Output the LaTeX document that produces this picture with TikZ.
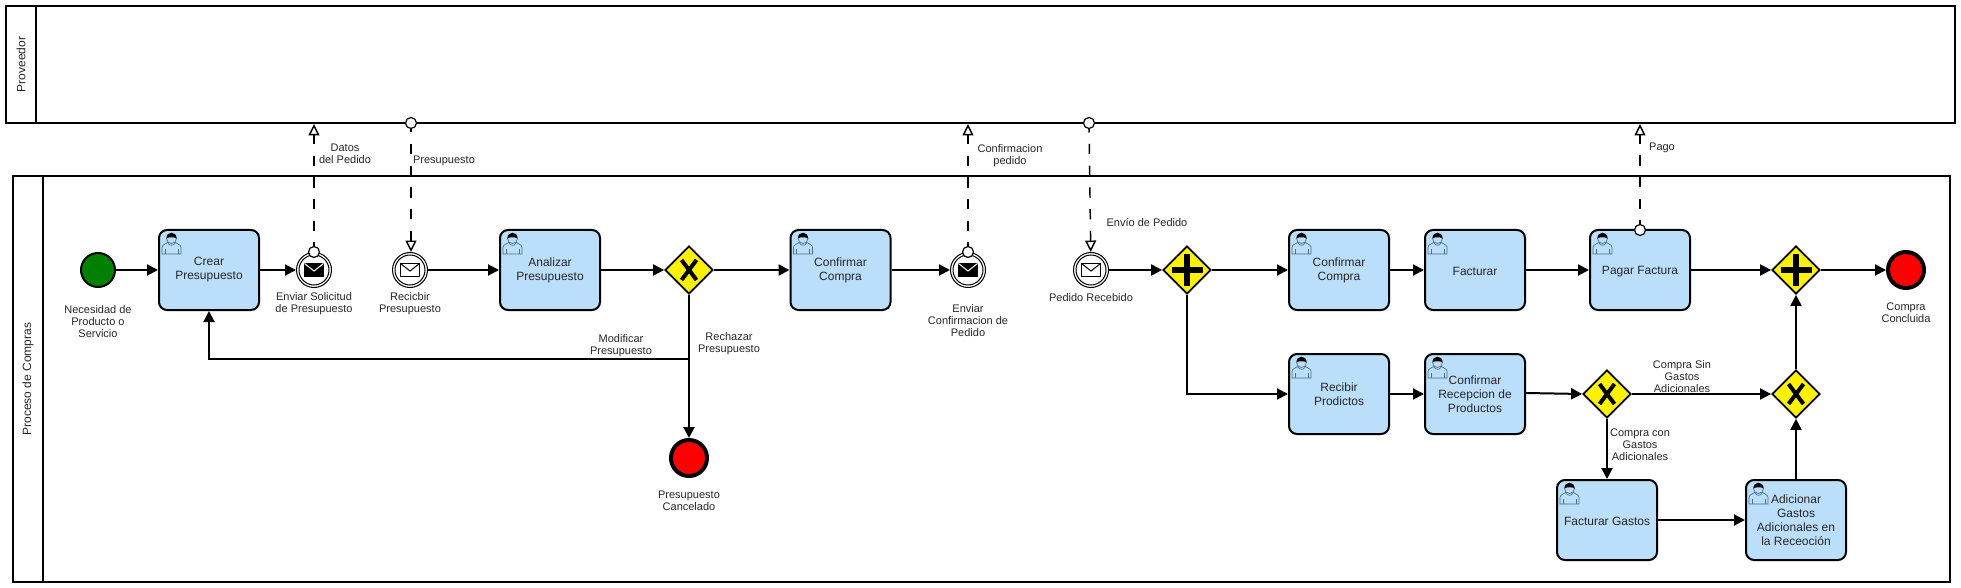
\documentclass[tikz,border=0pt]{standalone}
\usepackage{fontspec}
\setmainfont{Liberation Sans}
\usetikzlibrary{arrows.meta,shapes.geometric}

\definecolor{taskblue}{HTML}{BBDEFB}
\definecolor{icongray}{HTML}{4F6D84}

\tikzset{
	pool/.style={draw, line width=1.5pt, inner sep=0pt},
	poolname/.style={rotate=90, inner sep=0pt, text=black!85, font=\fontsize{9}{10.5}\selectfont},
	tasknode/.style={draw, line width=1.5pt, fill=taskblue, rounded corners=6pt, minimum width=75pt, minimum height=60pt, inner sep=0pt, align=center, text=black!85, font=\fontsize{9}{10.5}\selectfont, execute at begin node=\rule{0pt}{8.5pt}},
	gatenode/.style={diamond, draw, line width=1.3pt, fill=yellow, aspect=1, minimum width=36pt, minimum height=36pt, inner sep=0pt},
	startnode/.style={circle, draw, line width=1.5pt, fill=green!50!black, minimum size=25.5pt, inner sep=0pt},
	endnode/.style={circle, draw, line width=3pt, fill=red, minimum size=27pt, inner sep=0pt},
	mailnode/.style={circle, draw, line width=0.75pt, fill=white, minimum size=26.25pt, inner sep=0pt},
	portnode/.style={circle, draw, line width=0.9pt, fill=white, minimum size=8.25pt, inner sep=0pt},
	textnode/.style={inner sep=0pt, yshift=-0.9pt, align=center, text=black!85, font=\fontsize{8.25}{9}\selectfont},
	flow/.style={line width=1.5pt, -{Triangle[length=8.25pt,width=8.25pt]}},
	msgflow/.style={line width=1.1pt, dash pattern=on 7.8pt off 8.5pt, dash phase=5.25pt, -{Triangle[open,fill=white,length=8.6pt,width=8.2pt]}}
}

\def\mailicon[#1](#2){
	\draw[line width=0.75pt, line join=round, #1] ([shift={(-9.5,-6.5)}]#2.center) rectangle ([shift={(9.5,6.5)}]#2.center);
	\draw[line width=0.75pt, draw=white, #1] ([shift={(-9.5,-6.5)}]#2.center) -- ([shift={(0,1)}]#2.center) -- ([shift={(9.5,-6.5)}]#2.center);
}
\def\usericon(#1){
	\begin{scope}[shift={(#1.north west)}, line width=0.5pt, draw=icongray]
		\draw[fill=taskblue] (4,25) -- (4,18.5) .. controls (4,15.5) and (8,15) .. (10.5,13) -- (16.5,13) .. controls (19,15) and (23,15.5) .. (23,18.5) -- (23,25) -- cycle;
		\draw (7,25) -- (7,20) (20,25) -- (20,20);
		\draw (10,14) .. controls (11,17) and (16,17) .. (17,14);
		\draw[fill=taskblue] (13.5,9.5) circle (5);
		\fill[black] (8.5,9.5) .. controls (8.2,1.8) and (18.8,1.8) .. (18.5,9.5) .. controls (17,7.8) and (10,7.8) .. (8.5,9.5) -- cycle;
	\end{scope}
}
\def\gatecross(#1){
	\draw[line width=3pt] ([shift={(-7.5,-10)}]#1.center) -- ([shift={(7.5,10)}]#1.center);
	\draw[line width=3pt] ([shift={(7.5,-10)}]#1.center) -- ([shift={(-7.5,10)}]#1.center);
}
\def\gateplus(#1){
	\draw[line width=4.5pt] ([shift={(-15.5,0)}]#1.center) -- ([shift={(15.5,0)}]#1.center);
	\draw[line width=4.5pt] ([shift={(0,-15.5)}]#1.center) -- ([shift={(0,15.5)}]#1.center);
}

\begin{document}
\begin{tikzpicture}[x=0.75pt, y=-0.75pt]
	%%%%% START %%%%%
	\useasboundingbox (0, 0) rectangle (1961, 588);
	
	% pools
	\node[pool, minimum width=1461.75pt, minimum height=87.75pt] (poolProv) at (980.5, 64.5) {};
	\node[pool, minimum width=1452.75pt, minimum height=304.5pt] (poolComp) at (981.5, 379) {};
	\draw[line width=1.5pt] (36, 6) -- (36, 123);
	\draw[line width=1.5pt] (43, 176) -- (43, 582);
	\node[poolname] (nameProv) at (21, 64.5) {Proveedor};
	\node[poolname] (nameComp) at (28, 379) {Proceso de Compras};
	
	% events and tasks
	\node[startnode] (evStart) at (98, 270) {};
	\node[tasknode] (taskCrear) at (209, 270) {Crear\\Presupuesto};
	\node[mailnode] (evEnviar) at (314, 270) {};
	\node[mailnode] (evRecibir) at (410, 270) {};
	\node[tasknode] (taskAnalizar) at (550, 270) {Analizar\\Presupuesto};
	\node[gatenode] (gwAnalisis) at (689, 270) {};
	\node[tasknode] (taskConfirmar) at (840.5, 270) {Confirmar\\Compra};
	\node[mailnode] (evConfirm) at (968, 270) {};
	\node[endnode] (endCancel) at (689, 458) {};
	\node[mailnode] (evPedido) at (1091, 270) {};
	\node[gatenode] (gwPedido) at (1187, 270) {};
	\node[tasknode] (taskCompra) at (1339, 270) {Confirmar\\Compra};
	\node[tasknode] (taskFacturar) at (1475, 270) {Facturar};
	\node[tasknode] (taskPagar) at (1640, 270) {Pagar Factura};
	\node[gatenode] (gwJoin) at (1796, 270) {};
	\node[endnode] (endCompra) at (1906, 270) {};
	\node[tasknode] (taskRecibir) at (1339, 394) {Recibir\\Prodictos};
	\node[tasknode] (taskRecep) at (1475, 394) {Confirmar\\Recepcion de\\Productos};
	\node[gatenode] (gwGastos) at (1607, 394) {};
	\node[gatenode] (gwMerge) at (1796, 394) {};
	\node[tasknode] (taskGastos) at (1607, 520) {Facturar Gastos};
	\node[tasknode] (taskAdic) at (1796, 520) {Adicionar\\Gastos\\Adicionales en\\la Receoción};
	
	\usericon(taskCrear)
	\usericon(taskAnalizar)
	\usericon(taskConfirmar)
	\usericon(taskCompra)
	\usericon(taskFacturar)
	\usericon(taskPagar)
	\usericon(taskRecibir)
	\usericon(taskRecep)
	\usericon(taskGastos)
	\usericon(taskAdic)
	
	\draw[line width=0.75pt] (evEnviar) circle (15);
	\draw[line width=0.75pt] (evRecibir) circle (15);
	\draw[line width=0.75pt] (evConfirm) circle (15);
	\draw[line width=0.75pt] (evPedido) circle (15);
	\mailicon[fill=black](evEnviar)
	\mailicon[draw=black](evRecibir)
	\mailicon[fill=black](evConfirm)
	\mailicon[draw=black](evPedido)
	
	\gatecross(gwAnalisis)
	\gatecross(gwGastos)
	\gatecross(gwMerge)
	\gateplus(gwPedido)
	\gateplus(gwJoin)
	
	% sequence flows
	\coordinate (cModif) at (689, 359);
	\draw[flow] (evStart) -- (taskCrear);
	\draw[flow] (taskCrear) -- (evEnviar);
	\draw[flow] (evRecibir) -- (taskAnalizar);
	\draw[flow] (taskAnalizar) -- (gwAnalisis);
	\draw[flow] (gwAnalisis) -- (taskConfirmar);
	\draw[flow] (taskConfirmar) -- (evConfirm);
	\draw[flow] (gwAnalisis.south) -- (endCancel.north);
	\draw[flow] (cModif) -| (taskCrear.south);
	\draw[flow] (evPedido) -- (gwPedido);
	\draw[flow] (gwPedido) -- (taskCompra);
	\draw[flow] (taskCompra) -- (taskFacturar);
	\draw[flow] (taskFacturar) -- (taskPagar);
	\draw[flow] (taskPagar) -- (gwJoin);
	\draw[flow] (gwJoin) -- (endCompra);
	\draw[flow] (gwPedido.south) |- (taskRecibir.west);
	\draw[flow] (taskRecibir) -- (taskRecep);
	\draw[flow] ([yshift=0.75pt]taskRecep.east) -- (gwGastos.west);
	\draw[flow] (gwGastos) -- (gwMerge);
	\draw[flow] (gwGastos) -- (taskGastos);
	\draw[flow] (taskGastos) -- (taskAdic);
	\draw[flow] (taskAdic) -- (gwMerge);
	\draw[flow] (gwMerge) -- (gwJoin);
	
	% message flows
	\node[portnode] (portDatos) at (314, 252) {};
	\node[portnode] (portPres) at (411, 123) {};
	\node[portnode] (portConf) at (968, 252) {};
	\node[portnode] (portPedido) at (1089, 123) {};
	\node[portnode] (portPago) at (1640, 230) {};
	\draw[msgflow] (portDatos) -- (portDatos |- poolProv.south);
	\draw[msgflow] (portPres) -- (portPres |- evRecibir.north);
	\draw[msgflow] (portConf) -- (portConf |- poolProv.south);
	\draw[msgflow] (portPedido) -- (evPedido);
	\draw[msgflow] (portPago) -- (portPago |- poolProv.south);
	
	% labels
	\node[textnode] (lblNecesidad) at (98, 320) {Necesidad de\\Producto o\\Servicio};
	\node[textnode] (lblEnviar) at (314, 302) {Enviar Solicitud\\de Presupuesto};
	\node[textnode] (lblRecibir) at (410, 302) {Recicbir\\Presupuesto};
	\node[textnode] (lblDatos) at (345, 153) {Datos\\del Pedido};
	\node[textnode] (lblPres) at (444, 160) {Presupuesto};
	\node[textnode] (lblModif) at (621, 344) {Modificar\\Presupuesto};
	\node[textnode] (lblRechazar) at (729, 342) {Rechazar\\Presupuesto};
	\node[textnode] (lblCancel) at (689, 500) {Presupuesto\\Cancelado};
	\node[textnode] (lblConfirm) at (968, 319) {Enviar\\Confirmacion de\\Pedido};
	\node[textnode] (lblConfPed) at (1010, 154) {Confirmacion\\pedido};
	\node[textnode] (lblPedido) at (1091, 296) {Pedido Recebido};
	\node[textnode] (lblEnvio) at (1147, 221) {Envío de Pedido};
	\node[textnode] (lblPago) at (1662, 147) {Pago};
	\node[textnode] (lblConcluida) at (1906, 312) {Compra\\Concluida};
	\node[textnode] (lblSin) at (1682, 375) {Compra Sin\\Gastos\\Adicionales};
	\node[textnode] (lblCon) at (1640, 444) {Compra con\\Gastos\\Adicionales};
	%%%%% END %%%%%
\end{tikzpicture}
\end{document}
